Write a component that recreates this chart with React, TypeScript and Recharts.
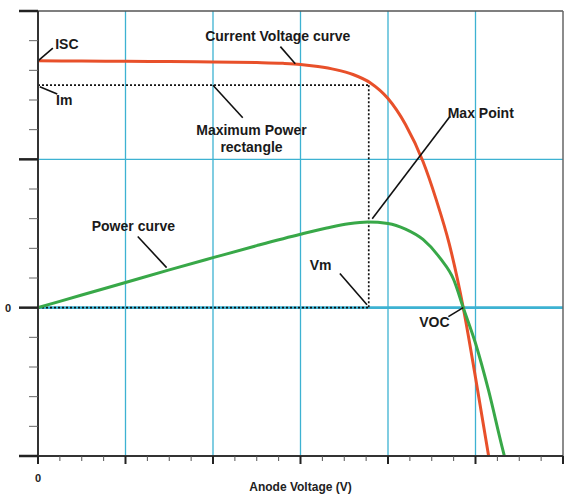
import {
  ComposedChart,
  Line,
  XAxis,
  YAxis,
  ReferenceLine,
  ReferenceDot,
} from "recharts";

// current-voltage curve
const ivVoltage = [0, 0.5, 1, 1.5, 2, 2.5, 2.8, 3.0, 3.2, 3.4, 3.6, 3.8, 4.0, 4.2, 4.4, 4.55, 4.7, 4.86, 5.0, 5.15];
const ivCurrent = [1.664, 1.663, 1.661, 1.659, 1.656, 1.652, 1.647, 1.64, 1.626, 1.605, 1.572, 1.515, 1.41, 1.235, 0.985, 0.73, 0.43, 0, -0.47, -1.0];

// power curve
const pvVoltage = [0, 0.5, 1.0, 1.5, 2.0, 2.5, 3.0, 3.3, 3.55, 3.77, 4.0, 4.2, 4.4, 4.6, 4.75, 4.86, 5.0, 5.15, 5.3, 5.33];
const pvPower = [0, 0.085, 0.17, 0.255, 0.337, 0.418, 0.495, 0.537, 0.566, 0.578, 0.568, 0.53, 0.46, 0.33, 0.19, 0, -0.24, -0.56, -0.93, -1.0];

// maximum power rectangle
const VM = 3.78;
const IM = 1.5;

const xTicks = [0, 0.25, 0.5, 0.75, 1, 1.25, 1.5, 1.75, 2, 2.25, 2.5, 2.75, 3, 3.25, 3.5, 3.75, 4, 4.25, 4.5, 4.75, 5, 5.25, 5.5, 5.75, 6];
const yTicks = [-1, -0.8, -0.6, -0.4, -0.2, 0, 0.2, 0.4, 0.6, 0.8, 1, 1.2, 1.4, 1.6, 1.8, 2];
const gridX = [1, 2, 3, 4, 5];
const gridY = [1];

// callouts: text position and leader line
const notes = [
  { text: ["ISC"], at: [0.33, 1.78], from: [0.17, 1.75], to: [0, 1.664] },
  { text: ["Im"], at: [0.3, 1.4], from: [0.22, 1.44], to: [0.02, 1.49] },
  { text: ["Current Voltage curve"], at: [2.74, 1.83], from: [2.77, 1.76], to: [2.94, 1.645] },
  { text: ["Maximum Power", "rectangle"], at: [2.44, 1.2], from: [2.34, 1.28], to: [2.0, 1.5] },
  { text: ["Max Point"], at: [5.06, 1.31], from: [4.71, 1.29], to: [3.82, 0.6] },
  { text: ["Power curve"], at: [1.09, 0.55], from: [1.14, 0.48], to: [1.47, 0.27] },
  { text: ["Vm"], at: [3.23, 0.29], from: [3.45, 0.23], to: [3.76, 0.02] },
  { text: ["VOC"], at: [4.53, -0.1], from: [4.69, -0.06], to: [4.86, 0] },
];

const ivData = ivVoltage.map((v, i) => ({ v, y: ivCurrent[i] }));
const pvData = pvVoltage.map((v, i) => ({ v, y: pvPower[i] }));

const rectEdges = [
  [[0, IM], [VM, IM]],
  [[VM, IM], [VM, 0]],
  [[0, 0], [VM, 0]],
  [[0, 0], [0, IM]],
];

const FONT = "'Liberation Sans', Arial, sans-serif";
const CYAN = "#3db2d2";

function XTick({ x, y, payload }: any) {
  const major = Number.isInteger(payload.value);
  return (
    <g>
      <line x1={x} y1={y} x2={x} y2={y + (major ? 8 : 5)} stroke={major ? "#222" : "#555"} strokeWidth={major ? 2 : 1} />
      {payload.value === 0 && (
        <text x={x} y={y + 26} textAnchor="middle" fontSize={11} fontWeight={700} fill="#222">
          0
        </text>
      )}
    </g>
  );
}

function YTick({ x, y, payload }: any) {
  const major = Number.isInteger(payload.value);
  return (
    <g>
      <line x1={x - (major ? 19 : 9)} y1={y} x2={x} y2={y} stroke={major ? "#222" : "#666"} strokeWidth={major ? 2.5 : 1} />
      {payload.value === 0 && (
        <text x={x - 30} y={y + 4} textAnchor="middle" fontSize={11} fontWeight={700} fill="#222">
          0
        </text>
      )}
    </g>
  );
}

export default function App() {
  return (
    <div>
      <style>{"body{margin:0;background:#fff}"}</style>
      <ComposedChart
        width={564}
        height={494}
        margin={{ top: 11, right: 1, bottom: 0, left: 0 }}
        style={{ fontFamily: FONT }}
      >
        <XAxis
          type="number"
          dataKey="v"
          domain={[0, 6]}
          ticks={xTicks}
          interval={0}
          allowDataOverflow
          height={38}
          tickSize={0}
          tickMargin={0}
          tickLine={false}
          tick={<XTick />}
          axisLine={{ stroke: "#333", strokeWidth: 2 }}
          label={{ value: "Anode Voltage (V)", position: "insideBottom", offset: 3, fontSize: 12, fontWeight: 700, fill: "#222" }}
        />
        <YAxis
          type="number"
          domain={[-1, 2]}
          ticks={yTicks}
          interval={0}
          allowDataOverflow
          width={38}
          tickSize={0}
          tickMargin={0}
          tickLine={false}
          tick={<YTick />}
          axisLine={{ stroke: "#333", strokeWidth: 2 }}
        />
        {gridX.map((g) => (
          <ReferenceLine key={"gx" + g} x={g} stroke={CYAN} strokeWidth={1.3} />
        ))}
        {gridY.map((g) => (
          <ReferenceLine key={"gy" + g} y={g} stroke={CYAN} strokeWidth={1.3} />
        ))}
        <ReferenceLine y={0} stroke={CYAN} strokeWidth={2.8} />
        <ReferenceLine y={2} stroke="#555" strokeWidth={1.5} />
        <ReferenceLine x={6} stroke="#666" strokeWidth={1.5} />
        {rectEdges.map((e, i) => (
          <ReferenceLine
            key={"r" + i}
            segment={[
              { x: e[0][0], y: e[0][1] },
              { x: e[1][0], y: e[1][1] },
            ]}
            stroke="#111"
            strokeWidth={1.7}
            strokeDasharray="2 2"
          />
        ))}
        <Line data={ivData} dataKey="y" type="monotone" stroke="#e8502a" strokeWidth={3} dot={false} isAnimationActive={false} />
        <Line data={pvData} dataKey="y" type="monotone" stroke="#38a848" strokeWidth={3} dot={false} isAnimationActive={false} />
        {notes.map((n, i) => (
          <ReferenceLine
            key={"l" + i}
            segment={[
              { x: n.from[0], y: n.from[1] },
              { x: n.to[0], y: n.to[1] },
            ]}
            stroke="#111"
            strokeWidth={1.6}
          />
        ))}
        {notes.map((n, i) => (
          <ReferenceDot
            key={"t" + i}
            x={n.at[0]}
            y={n.at[1]}
            r={0}
            shape={(p: any) => (
              <text x={p.cx} y={p.cy} textAnchor="middle" fontSize={14} fontWeight={700} fill="#1a1a1a">
                {n.text.map((t, j) => (
                  <tspan key={j} x={p.cx} dy={j === 0 ? "0.35em" : 17}>
                    {t}
                  </tspan>
                ))}
              </text>
            )}
          />
        ))}
      </ComposedChart>
    </div>
  );
}
